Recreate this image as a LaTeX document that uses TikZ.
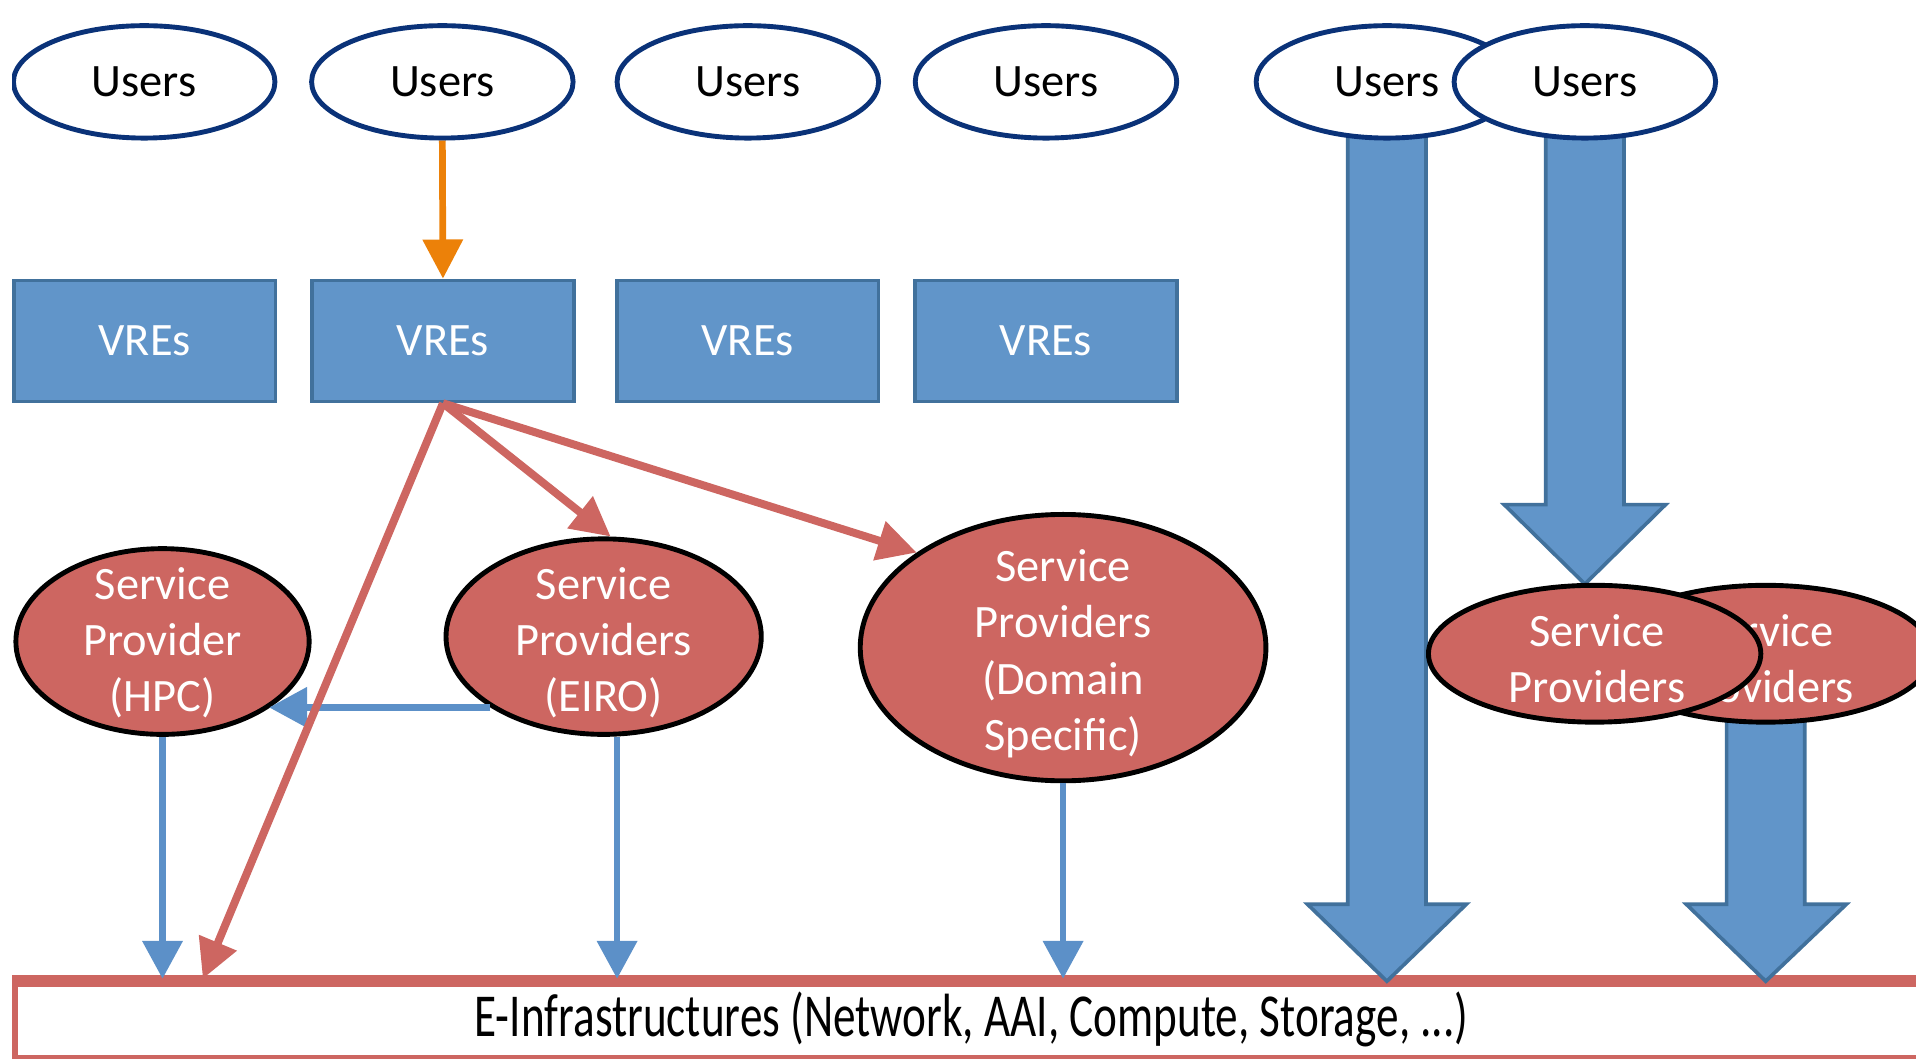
\documentclass[tikz,border=0pt]{standalone}
\usepackage{fontspec}
\usepackage{graphicx}
\setmainfont{Carlito}
\usetikzlibrary{arrows.meta,shapes.geometric,calc}
\definecolor{navy}{RGB}{10,50,120}
\definecolor{vrefill}{RGB}{97,149,201}
\definecolor{vreborder}{RGB}{65,113,156}
\definecolor{spred}{RGB}{205,102,97}
\definecolor{thinblue}{RGB}{92,144,200}
\definecolor{orangec}{RGB}{236,129,9}
\begin{document}
\begin{tikzpicture}[x=1pt,y=-1pt,
  lbl/.style={font=\fontsize{38}{46}\selectfont},
  users/.style={ellipse, draw=navy, line width=4pt, fill=white, minimum width=214pt, minimum height=92pt, inner sep=0pt, lbl},
  vre/.style={rectangle, draw=vreborder, fill=vrefill, line width=3pt, minimum width=214pt, minimum height=99pt, inner sep=0pt, text=white, lbl},
  sp/.style={ellipse, draw=black, line width=4pt, fill=spred, inner sep=0pt},
  sptext/.style={text=white, align=center, lbl, inner sep=0pt},
  infra/.style={rectangle, draw=spred, line width=10pt, fill=white, minimum width=1570pt, minimum height=65pt, inner sep=0pt, outer sep=2pt},
  redarr/.style={color=spred, line width=6.5pt, -{Triangle[width=32pt,length=32pt]}},
  bluearr/.style={color=thinblue, line width=5.5pt, -{Triangle[width=32pt,length=31pt]}},
  orarr/.style={color=orangec, line width=5.5pt, -{Triangle[width=32pt,length=32pt]}},
  bigarr/.style={fill=vrefill, draw=vreborder, line width=3pt, line join=miter}
]
\useasboundingbox (0,0) rectangle (1568,866);
\clip (10,0) rectangle (1568,866);

% E-Infrastructures bar
\node[infra] (infra) at (795,835.5) {};
\node[inner sep=0pt] (infrat) at (795,834) {\scalebox{1.0}[1.35]{\fontsize{37}{40}\selectfont E-Infrastructures (Network, AAI, Compute, Storage, ...)}};

% big block arrows
\draw[bigarr] (1103,67) -- (1103,740) -- (1070,740) -- (1135,803) -- (1200,740) -- (1167,740) -- (1167,67) -- cycle;
\draw[bigarr] (1265,67) -- (1265,413) -- (1231,413) -- (1297,478) -- (1363,413) -- (1329,413) -- (1329,67) -- cycle;
\draw[bigarr] (1413,535) -- (1413,740) -- (1380,740) -- (1445,803) -- (1511,740) -- (1477,740) -- (1477,535) -- cycle;

% users
\node[users] (u1) at (118,67) {Users};
\node[users] (u2) at (362,67) {Users};
\node[users] (u3) at (612,67) {Users};
\node[users] (u4) at (856,67) {Users};
\node[users] (u5) at (1135,67) {Users};
\node[users] (u6) at (1297,67) {Users};

% VREs
\node[vre] (v1) at (118.5,279) {\raisebox{-4pt}{VREs}};
\node[vre] (v2) at (362.5,279) {\raisebox{-4pt}{VREs}};
\node[vre] (v3) at (612,279) {\raisebox{-4pt}{VREs}};
\node[vre] (v4) at (856,279) {\raisebox{-4pt}{VREs}};

% service providers
\node[sp, minimum width=240pt, minimum height=152pt] (hpc) at (133,525) {};
\node[sptext] (hpct) at (133,526) {Service\\Provider\\(HPC)};
\node[sp, minimum width=258pt, minimum height=160pt] (eiro) at (494,521) {};
\node[sptext] (eirot) at (494,526) {Service\\Providers\\(EIRO)};
\node[sp, minimum width=332pt, minimum height=218pt] (dom) at (870,530) {};
\node[sptext] (domt) at (870,535) {Service\\Providers\\(Domain\\Specific)};
\node[sp, minimum width=272pt, minimum height=112pt] (sp2) at (1445,535) {};
\node[sptext] (sp2t) at (1445,539) {Service\\Providers};
\node[sp, minimum width=272pt, minimum height=112pt] (sp1) at (1305,535) {};
\node[sptext] (sp1t) at (1307,539) {Service\\Providers};

% thin arrows
\draw[orarr] (u2.south) -- (v2.north);
\draw[bluearr] (hpc.south) -- (hpc.south |- infra.north);
\draw[bluearr] ([xshift=11pt]eiro.south) -- ([xshift=11pt]eiro.south |- infra.north);
\draw[bluearr] (dom.south) -- (dom.south |- infra.north);
\draw[bluearr] (eiro.212) -- (eiro.212 -| hpc.328);

% red arrows
\coordinate (rtip) at ($(infra.north west)+(158,0)$);
\draw[redarr] (v2.south) -- (rtip);
\draw[redarr] (v2.south) -- (eiro.86);
\draw[redarr] (v2.south) -- (dom.147);
\end{tikzpicture}
\end{document}
